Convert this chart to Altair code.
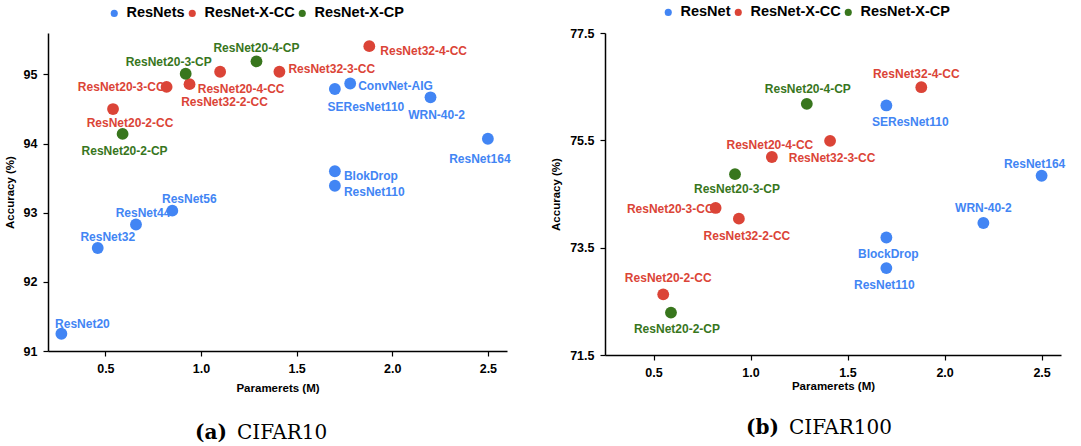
import altair as alt
import pandas as pd

# ---- CIFAR10 ----
c10_models = [
    "ResNet20", "ResNet32", "ResNet44", "ResNet56", "ResNet110", "BlokDrop",
    "ResNet164", "WRN-40-2", "SEResNet110", "ConvNet-AIG",
    "ResNet20-2-CC", "ResNet20-3-CC", "ResNet32-2-CC", "ResNet20-4-CC",
    "ResNet32-3-CC", "ResNet32-4-CC",
    "ResNet20-2-CP", "ResNet20-3-CP", "ResNet20-4-CP",
]
c10_params = [
    0.27, 0.46, 0.66, 0.85, 1.70, 1.70,
    2.50, 2.20, 1.70, 1.78,
    0.54, 0.82, 0.94, 1.10,
    1.41, 1.88,
    0.59, 0.92, 1.29,
]
c10_acc = [
    91.25, 92.49, 92.83, 93.03, 93.39, 93.60,
    94.07, 94.67, 94.79, 94.87,
    94.50, 94.82, 94.86, 95.04,
    95.04, 95.41,
    94.14, 95.01, 95.19,
]
c10_family = ["ResNets"] * 10 + ["ResNet-X-CC"] * 6 + ["ResNet-X-CP"] * 3

# ---- CIFAR100 ----
c100_models = [
    "ResNet110", "BlockDrop", "WRN-40-2", "ResNet164", "SEResNet110",
    "ResNet20-2-CC", "ResNet20-3-CC", "ResNet32-2-CC", "ResNet20-4-CC",
    "ResNet32-3-CC", "ResNet32-4-CC",
    "ResNet20-2-CP", "ResNet20-3-CP", "ResNet20-4-CP",
]
c100_params = [
    1.70, 1.70, 2.20, 2.50, 1.70,
    0.55, 0.82, 0.94, 1.11,
    1.41, 1.88,
    0.59, 0.92, 1.29,
]
c100_acc = [
    73.12, 73.69, 73.96, 74.84, 76.15,
    72.63, 74.24, 74.04, 75.19,
    75.49, 76.49,
    72.29, 74.87, 76.18,
]
c100_family = ["ResNet"] * 5 + ["ResNet-X-CC"] * 6 + ["ResNet-X-CP"] * 3

# label placement around each marker: (dx, dy, align)
c10_label_pos = {
    "ResNet20": (21, -10, "center"), "ResNet32": (10, -11, "center"),
    "ResNet44": (7, -11, "center"), "ResNet56": (17, -12, "center"),
    "ResNet110": (9, 6, "left"), "BlokDrop": (9, 5, "left"),
    "ResNet164": (-8, 20, "center"), "WRN-40-2": (6, 18, "center"),
    "SEResNet110": (31, 18, "center"), "ConvNet-AIG": (8, 3, "left"),
    "ResNet20-2-CC": (17, 14, "center"), "ResNet20-3-CC": (-2, 0, "right"),
    "ResNet32-2-CC": (35, 18, "center"), "ResNet20-4-CC": (21, 17, "center"),
    "ResNet32-3-CC": (9, -3, "left"), "ResNet32-4-CC": (11, 5, "left"),
    "ResNet20-2-CP": (2, 17, "center"), "ResNet20-3-CP": (-17, -12, "center"),
    "ResNet20-4-CP": (0, -13, "center"),
}
c100_label_pos = {
    "ResNet110": (-2, 17, "center"), "BlockDrop": (2, 17, "center"),
    "WRN-40-2": (0, -15, "center"), "ResNet164": (-7, -12, "center"),
    "SEResNet110": (24, 17, "center"),
    "ResNet20-2-CC": (5, -16, "center"), "ResNet20-3-CC": (-2, 1, "right"),
    "ResNet32-2-CC": (8, 17, "center"), "ResNet20-4-CC": (-2, -12, "center"),
    "ResNet32-3-CC": (2, 17, "center"), "ResNet32-4-CC": (-5, -13, "center"),
    "ResNet20-2-CP": (6, 16, "center"), "ResNet20-3-CP": (2, 15, "center"),
    "ResNet20-4-CP": (1, -15, "center"),
}

BLUE, RED, GREEN = "#4285F4", "#DB4437", "#38761D"
SANS = "Liberation Sans"
SERIF = "DejaVu Serif"


def frame(models, params, acc, family, pos):
    df = pd.DataFrame({"model": models, "params": params, "acc": acc, "family": family})
    df["dx"] = [pos[m][0] for m in models]
    df["dy"] = [pos[m][1] for m in models]
    df["align"] = [pos[m][2] for m in models]
    return df


def panel(df, families, xdom, ydom, yticks, yfmt, w, h, legend_xy,
          title_pad_x, tag, name, caption_xy):
    color = alt.Color(
        "family:N",
        scale=alt.Scale(domain=families, range=[BLUE, RED, GREEN]),
        legend=alt.Legend(
            title=None, orient="none", direction="horizontal",
            legendX=legend_xy[0], legendY=legend_xy[1],
            symbolType="circle", symbolSize=50, symbolStrokeWidth=0,
            symbolOpacity=1,
            labelFont=SANS, labelFontSize=14.5, labelFontWeight="bold",
            labelColor="black", columnPadding=0, labelOffset=5,
        ),
    )
    x = alt.X(
        "params:Q",
        scale=alt.Scale(domain=xdom, nice=False, zero=False),
        axis=alt.Axis(values=[0.5, 1.0, 1.5, 2.0, 2.5], format=".1f",
                      title="Paramerets (M)", titlePadding=title_pad_x),
    )
    y = alt.Y(
        "acc:Q",
        scale=alt.Scale(domain=ydom, nice=False, zero=False),
        axis=alt.Axis(values=yticks, format=yfmt, title="Accuracy (%)"),
    )
    base = alt.Chart(df).encode(x=x, y=y, color=color)

    labels = base.mark_text(
        font=SANS, fontSize=12, fontWeight="bold", baseline="middle",
        dx=alt.ExprRef("datum.dx"), dy=alt.ExprRef("datum.dy"),
        align=alt.ExprRef("datum.align"),
    ).encode(text="model:N")

    points = base.mark_circle(size=140, opacity=1)

    cap = pd.DataFrame({"tag": [tag], "name": [name]})
    cap_tag = alt.Chart(cap).mark_text(
        font=SERIF, fontSize=20, fontWeight="bold", align="right", baseline="alphabetic"
    ).encode(text="tag:N", x=alt.value(caption_xy[0]), y=alt.value(caption_xy[1]))
    cap_name = alt.Chart(cap).mark_text(
        font=SERIF, fontSize=20, align="left", baseline="alphabetic"
    ).encode(text="name:N", x=alt.value(caption_xy[0] + 10), y=alt.value(caption_xy[1]))

    return alt.layer(labels, points, cap_tag, cap_name).properties(width=w, height=h)


df10 = frame(c10_models, c10_params, c10_acc, c10_family, c10_label_pos)
df100 = frame(c100_models, c100_params, c100_acc, c100_family, c100_label_pos)

left = panel(df10, ["ResNets", "ResNet-X-CC", "ResNet-X-CP"], [0.2, 2.6], [91, 95.6],
             [91, 92, 93, 94, 95], "d", 459, 318, (59, -27), 8,
             "(a)", "CIFAR10", (179, 406))
right = panel(df100, ["ResNet", "ResNet-X-CC", "ResNet-X-CP"], [0.25, 2.6], [71.5, 77.5],
              [71.5, 73.5, 75.5, 77.5], ".1f", 456, 322, (56, -28), 2,
              "(b)", "CIFAR100", (174, 401))

chart = (
    alt.hconcat(left, right, spacing=39)
    .resolve_scale(color="independent", x="independent", y="independent")
    .resolve_legend(color="independent")
    .properties(padding={"left": 4, "top": 5, "right": 4, "bottom": 4}, background="white")
    .configure_view(stroke=None)
    .configure_axis(
        grid=False, domainColor="black", domainWidth=1.5, tickColor="black",
        tickSize=5, tickWidth=1.2, labelFont=SANS, labelFontSize=12.5,
        labelFontWeight="bold", labelColor="black", labelPadding=6,
        titleFont=SANS, titleFontSize=11.5, titleFontWeight="bold", titleColor="black",
    )
    .configure_axisY(titlePadding=8)
)

chart.save("out.html", embed_options={"renderer": "svg", "actions": False})
